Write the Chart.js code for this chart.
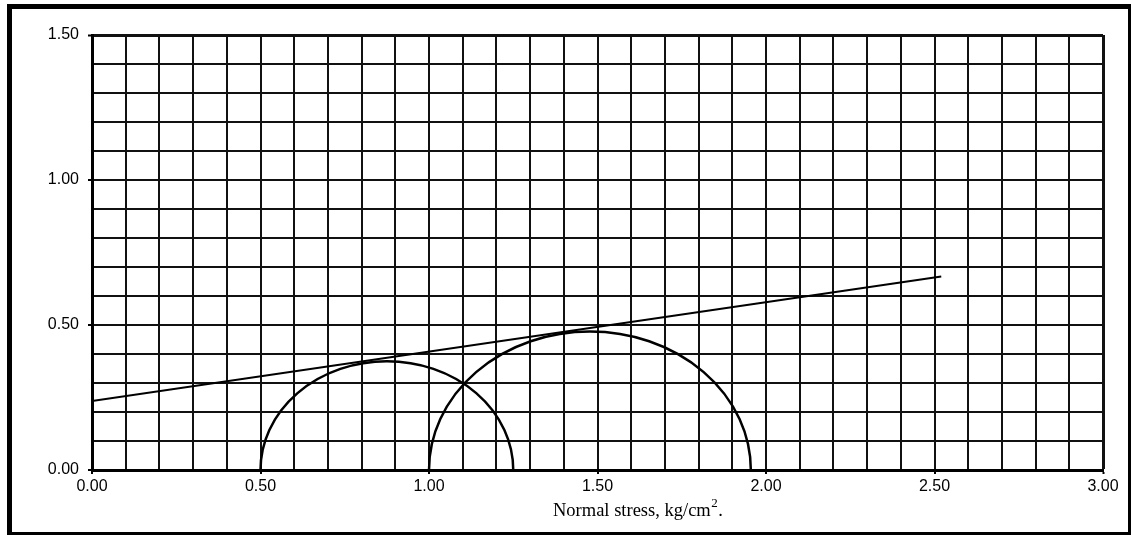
<!DOCTYPE html>
<html>
<head>
<meta charset="utf-8">
<script src="https://cdn.jsdelivr.net/npm/chart.js@4/dist/chart.umd.min.js"></script>
<style>
  html, body { margin: 0; padding: 0; background: #fff; }
  #wrap { width: 1131px; height: 535px; position: relative; }
</style>
</head>
<body>
<div id="wrap"><canvas id="c" width="1131" height="535"></canvas></div>
<script>
// Axis tick labels (shown every 0.5, grid every 0.1)
const xTickLabels = ['0.00', '0.50', '1.00', '1.50', '2.00', '2.50', '3.00'];
const yTickLabels = ['0.00', '0.50', '1.00', '1.50'];

// Mohr circles: minor and major principal stresses, kg/cm²
const sigma3 = [0.50, 1.00];
const sigma1 = [1.25, 1.955];

// Failure envelope end points
const envelopeX = [0.00, 2.52];
const envelopeY = [0.238, 0.667];

const AXIS_FONT = { family: "'Liberation Sans', Arial, sans-serif", size: 16 };

function labelAt(value, labels) {
  const i = Math.round(value / 0.5);
  if (Math.abs(value - i * 0.5) < 1e-6 && i >= 0 && i < labels.length) return labels[i];
  return '';
}
function isMajor(value) {
  return Math.abs(value / 0.5 - Math.round(value / 0.5)) < 1e-6;
}

// Semicircles drawn through the chart scales
const mohrCircles = {
  id: 'mohrCircles',
  afterDatasetsDraw(chart) {
    const { ctx, chartArea, scales: { x, y } } = chart;
    ctx.save();
    ctx.beginPath();
    ctx.rect(chartArea.left, chartArea.top, chartArea.right - chartArea.left, chartArea.bottom - chartArea.top);
    ctx.clip();
    ctx.strokeStyle = '#000';
    ctx.lineWidth = 2.5;
    for (let i = 0; i < sigma3.length; i++) {
      const c = (sigma3[i] + sigma1[i]) / 2;
      const r = (sigma1[i] - sigma3[i]) / 2;
      const cx = x.getPixelForValue(c);
      const cy = y.getPixelForValue(0);
      const rx = x.getPixelForValue(sigma1[i]) - cx;
      const ry = cy - y.getPixelForValue(r);
      ctx.beginPath();
      ctx.ellipse(cx, cy, rx, ry, 0, Math.PI, 2 * Math.PI);
      ctx.stroke();
    }
    ctx.restore();
  }
};

// White page, outer frame and the axis title with a superscript
const pageDecor = {
  id: 'pageDecor',
  beforeDraw(chart) {
    const { ctx } = chart;
    ctx.save();
    ctx.fillStyle = '#fff';
    ctx.fillRect(0, 0, chart.width, chart.height);
    ctx.restore();
  },
  afterDraw(chart) {
    const { ctx } = chart;
    ctx.save();
    ctx.strokeStyle = '#000';
    ctx.lineWidth = 5;
    ctx.strokeRect(9.5, 6.5, 1121, 528);

    ctx.fillStyle = '#000';
    ctx.textBaseline = 'alphabetic';
    ctx.textAlign = 'left';
    const main = 'Normal stress, kg/cm';
    ctx.font = "18.5px 'Liberation Serif', 'Times New Roman', serif";
    let tx = 553;
    const base = 516;
    ctx.fillText(main, tx, base);
    tx += ctx.measureText(main).width + 0.5;
    ctx.font = "13px 'Liberation Serif', 'Times New Roman', serif";
    ctx.fillText('2', tx, base - 9);
    tx += ctx.measureText('2').width + 0.5;
    ctx.font = "18.5px 'Liberation Serif', 'Times New Roman', serif";
    ctx.fillText('.', tx, base);
    ctx.restore();
  }
};

new Chart(document.getElementById('c'), {
  type: 'scatter',
  data: {
    datasets: [{
      label: 'Envelope',
      data: envelopeX.map((v, i) => ({ x: v, y: envelopeY[i] })),
      showLine: true,
      borderColor: '#000',
      borderWidth: 2,
      pointRadius: 0,
      fill: false
    }]
  },
  options: {
    responsive: false,
    animation: false,
    events: [],
    layout: { padding: { left: 0, top: 35, right: 28, bottom: 0 } },
    plugins: { legend: { display: false }, tooltip: { enabled: false }, title: { display: false } },
    scales: {
      x: {
        type: 'linear',
        min: 0, max: 3,
        afterFit(scale) { scale.height = 65; },
        border: { display: true, color: '#000', width: 3 },
        grid: {
          color: '#111',
          lineWidth: (c) => (c.tick && Math.abs(c.tick.value - 3) < 1e-6 ? 3 : 2),
          drawTicks: true,
          tickLength: 4,
          tickWidth: 2,
          tickColor: (c) => (c.tick && isMajor(c.tick.value) ? '#000' : 'rgba(0,0,0,0)')
        },
        ticks: {
          stepSize: 0.1,
          maxTicksLimit: 100,
          autoSkip: false,
          maxRotation: 0,
          minRotation: 0,
          padding: 3,
          color: '#000',
          font: AXIS_FONT,
          callback: (v) => labelAt(v, xTickLabels)
        }
      },
      y: {
        type: 'linear',
        min: 0, max: 1.5,
        afterFit(scale) { scale.width = 92; },
        border: { display: true, color: '#000', width: 3 },
        grid: {
          color: '#111',
          lineWidth: (c) => (c.tick && Math.abs(c.tick.value - 1.5) < 1e-6 ? 3 : 2),
          drawTicks: true,
          tickLength: 4,
          tickWidth: 2,
          tickColor: (c) => (c.tick && isMajor(c.tick.value) ? '#000' : 'rgba(0,0,0,0)')
        },
        ticks: {
          stepSize: 0.1,
          maxTicksLimit: 100,
          autoSkip: false,
          padding: 9,
          color: '#000',
          font: AXIS_FONT,
          callback: (v) => labelAt(v, yTickLabels)
        }
      }
    }
  },
  plugins: [pageDecor, mohrCircles]
});
</script>
</body>
</html>
